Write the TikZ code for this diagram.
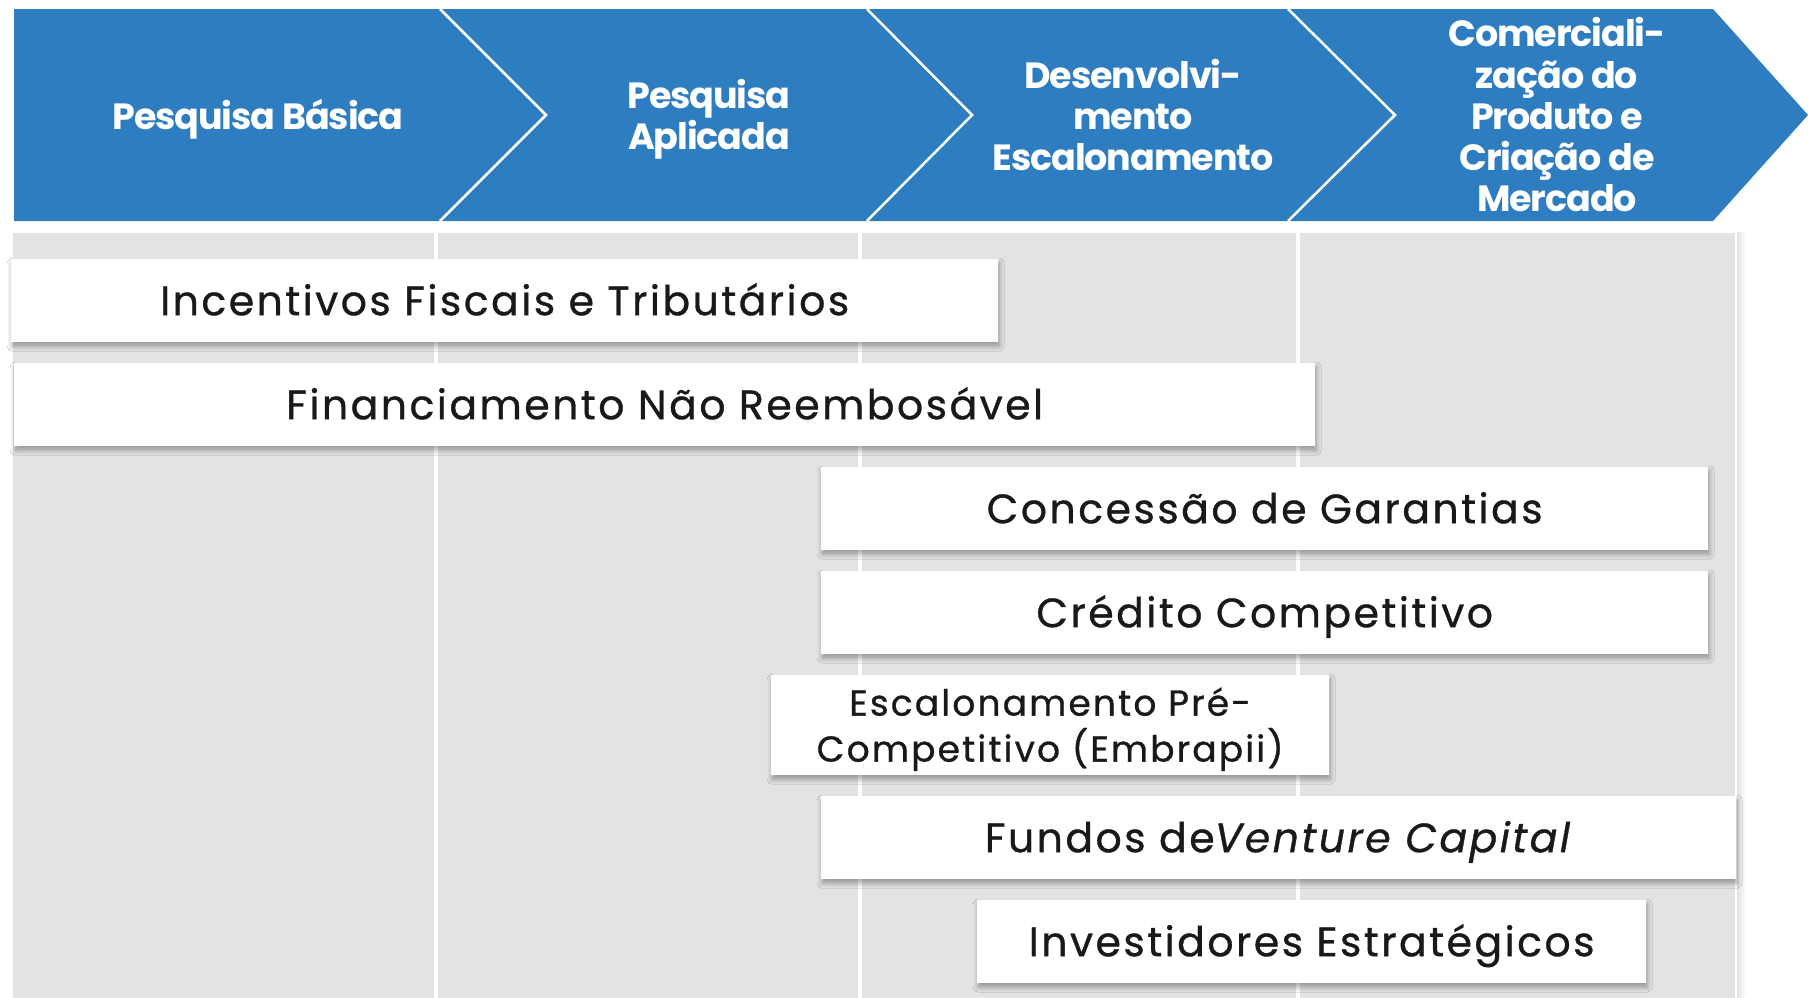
\documentclass[tikz,border=0pt]{standalone}
\usepackage{fontspec}
\setmainfont{Poppins}
\usetikzlibrary{shadows,shadows.blur}
\definecolor{bannerblue}{RGB}{47,125,193}
\definecolor{colgray}{RGB}{227,227,227}
\definecolor{toolink}{RGB}{25,25,25}
\tikzset{
  colbox/.style={fill=colgray, draw=white, line width=1.5pt},
  divline/.style={draw=white, line width=2.5pt, line join=miter},
  phase/.style={text=white, align=center, font=\fontsize{36.5}{41.25}\selectfont\bfseries\addfontfeatures{LetterSpace=-3}, inner sep=0pt},
  toolfont/.style={font=\fontsize{41}{46}\selectfont\addfontfeatures{LetterSpace=6,FakeBold=0.8}, text=toolink},
  tool/.style={fill=white, draw=none, anchor=north west, inner sep=0pt, toolfont,
    align=center, text height=29pt, text depth=0pt,
    blur shadow={shadow xshift=1pt, shadow yshift=-4pt, shadow blur steps=8, shadow blur radius=5pt, shadow opacity=35}},
}
\begin{document}
\begin{tikzpicture}[x=1pt,y=-1pt]
\useasboundingbox (0,0) rectangle (1808,997);
\fill[white] (0,0) rectangle (1808,997);
% columns
\shade[left color=black!14, right color=white] (1735,232) rectangle (1746,997);
\draw[colbox] (12,232) rectangle (435,1000);
\draw[colbox] (437,232) rectangle (859,1000);
\draw[colbox] (861,232) rectangle (1297,1000);
\draw[colbox] (1299,232) rectangle (1736,1000);
% banner
\fill[bannerblue] (14,9) -- (1713,9) -- (1808,115) -- (1713,221) -- (14,221) -- cycle;
\draw[divline] (440,9) -- (546,115) -- (440,221);
\draw[divline] (867,9) -- (972,115) -- (867,221);
\draw[divline] (1288,9) -- (1395,115) -- (1288,221);
\node[phase] (p1) at (258,119) {Pesquisa Básica};
\node[phase] (p2) at (709,119) {Pesquisa\\Aplicada};
\node[phase] (p3) at (1133,115) {Desenvolvi-\\mento\\Escalonamento};
\node[phase] (p4) at (1557,115) {Comerciali-\\zação do\\Produto e\\Criação de\\Mercado};
% instruments
\node[tool, minimum width=987pt, minimum height=83pt] (b1) at (11,259) {Incentivos Fiscais e Tributários};
\node[tool, minimum width=1301pt, minimum height=83pt] (b2) at (14,363) {Financiamento Não Reembosável};
\node[tool, minimum width=887pt, minimum height=83pt] (b3) at (821,467) {Concessão de Garantias};
\node[tool, minimum width=887pt, minimum height=83pt] (b4) at (821,571) {Crédito Competitivo};
\node[tool, minimum width=558pt, minimum height=100pt, text height=, text depth=] (b5) at (771,675) {};
\node[toolfont, align=center, inner sep=0pt, font=\fontsize{36}{46}\selectfont\addfontfeatures{LetterSpace=6,FakeBold=0.8}] (b5t) at ([yshift=-4pt]b5.center) {Escalonamento Pré-\\Competitivo (Embrapii)};
\node[tool, minimum width=915pt, minimum height=83pt] (b6) at (821,796) {Fundos de\textit{Venture Capital}};
\node[tool, minimum width=669pt, minimum height=83pt] (b7) at (977,900) {Investidores Estratégicos};
\end{tikzpicture}
\end{document}
